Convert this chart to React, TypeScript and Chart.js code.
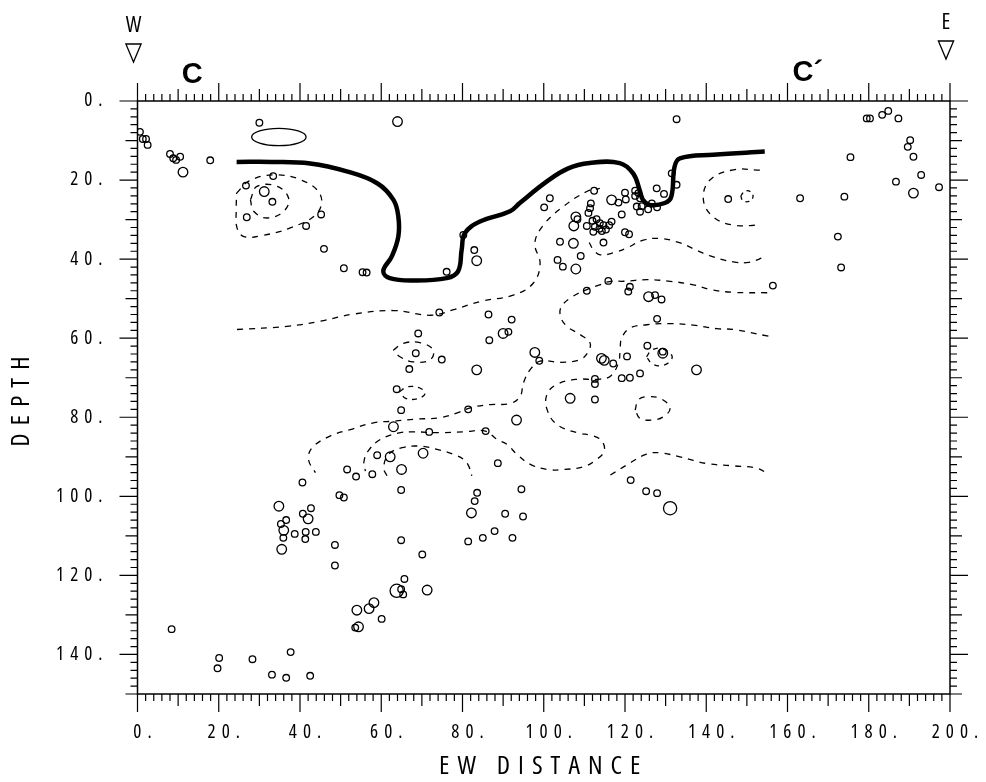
import React, { useEffect, useRef } from 'react';
import { Chart, registerables } from 'chart.js';

Chart.register(...registerables);

const FONT = "'Open Sans', 'DejaVu Sans', 'Liberation Sans', sans-serif";

// Axis ticks
const xTickValues = [0, 20, 40, 60, 80, 100, 120, 140, 160, 180, 200];
const xTickLabels = ['0.', '20.', '40.', '60.', '80.', '100.', '120.', '140.', '160.', '180.', '200.'];
const yTickValues = [0, 20, 40, 60, 80, 100, 120, 140];
const yTickLabels = ['0.', '20.', '40.', '60.', '80.', '100.', '120.', '140.'];

// Hypocentres: [EW distance, depth]
const smallEvents: number[][] = [
  [30.0, 5.5], [0.6, 7.8], [1.3, 9.6], [2.1, 9.6], [2.5, 11.1], [8.0, 13.4], [8.8, 14.5], [9.5, 14.9],
  [10.5, 14.1], [17.9, 15.0], [33.4, 19.0], [26.7, 21.4], [33.2, 25.5], [26.9, 29.4], [45.2, 28.7],
  [41.5, 31.6], [45.9, 37.4], [50.8, 42.3], [55.4, 43.3], [56.4, 43.4], [76.1, 43.2], [80.2, 33.9],
  [82.9, 37.7], [74.3, 53.5], [86.4, 54.0], [92.1, 55.3], [91.3, 58.4], [86.6, 60.5], [69.1, 58.8],
  [68.5, 63.8], [74.9, 65.4], [66.9, 67.8], [63.8, 72.9], [64.9, 78.2], [71.8, 83.7], [81.4, 78.0],
  [85.7, 83.5], [59.0, 89.6], [51.6, 93.2], [53.8, 95.0], [57.8, 94.4], [64.9, 98.4], [88.7, 91.6],
  [40.6, 96.5], [49.7, 99.7], [50.8, 100.3], [40.7, 104.4], [42.7, 103.0], [36.6, 106.0], [35.3, 107.0],
  [35.9, 110.5], [38.7, 109.5], [41.4, 109.0], [43.9, 109.0], [41.3, 110.8], [48.6, 112.3], [48.6, 117.5],
  [64.9, 111.1], [70.1, 114.7], [83.6, 99.1], [83.0, 101.2], [90.5, 104.4], [87.9, 108.8], [85.0, 110.5],
  [81.4, 111.4], [92.3, 110.5], [94.5, 98.2], [94.9, 105.1], [65.7, 120.9], [64.9, 123.5], [65.4, 124.8],
  [60.1, 131.0], [53.6, 133.2], [8.4, 133.6], [20.1, 140.9], [19.7, 143.5], [28.3, 141.2], [33.1, 145.1],
  [36.6, 145.9], [37.7, 139.4], [42.5, 145.4], [121.4, 95.9], [125.2, 98.7], [127.9, 99.2],
  [132.7, 4.6], [179.5, 4.4], [180.3, 4.4], [183.3, 3.5], [184.8, 2.5], [187.3, 4.4], [190.2, 9.9],
  [189.6, 11.6], [191.0, 14.1], [175.5, 14.2], [192.9, 18.7], [186.7, 20.4], [197.3, 21.8], [163.1, 24.6],
  [174.0, 24.2], [172.4, 34.3], [173.2, 42.1], [156.4, 46.7], [145.4, 24.8], [131.5, 18.3], [132.7, 21.2],
  [127.8, 22.1], [129.6, 23.5],
  [112.4, 22.7], [101.5, 24.6], [100.1, 26.9], [118.4, 25.7], [120.0, 23.2], [120.2, 24.9], [122.5, 22.7],
  [122.5, 24.0], [123.3, 23.3], [123.7, 24.6], [122.9, 26.7], [124.1, 26.6], [123.7, 28.0], [125.7, 27.4],
  [126.6, 25.9], [127.9, 26.9], [111.6, 25.9], [111.4, 27.1], [111.0, 28.3], [119.2, 28.7], [108.3, 29.9],
  [110.6, 31.6], [112.0, 30.3], [113.0, 29.9], [113.8, 30.9], [112.6, 31.8], [113.7, 32.3], [114.7, 31.4],
  [114.3, 32.9], [112.2, 33.1], [115.3, 32.5], [116.7, 30.5], [116.1, 31.4], [120.0, 33.2], [121.0, 33.7],
  [114.7, 35.8], [109.1, 39.2], [104.7, 41.9], [103.4, 40.2], [104.0, 35.6], [115.9, 45.5], [110.6, 48.0],
  [121.2, 47.0], [120.8, 48.2], [127.4, 49.1], [129.0, 50.2], [127.9, 55.1], [98.9, 65.7], [117.1, 66.4],
  [120.5, 64.6], [125.5, 61.9], [129.3, 63.4], [112.6, 70.3], [112.6, 71.6], [119.2, 70.1], [121.2, 70.0],
  [123.7, 68.9], [112.6, 75.5],
];

const mediumEvents: number[][] = [
  [64.0, 5.2], [11.2, 18.0], [31.2, 22.9], [83.5, 40.4], [90.0, 58.8], [83.5, 68.0], [63.0, 82.4],
  [93.3, 80.7], [62.2, 90.0], [70.3, 89.1], [65.0, 93.2], [34.8, 102.5], [42.0, 105.7], [36.0, 108.6],
  [35.5, 113.4], [82.2, 104.2], [71.3, 123.7], [58.2, 126.9], [57.0, 128.4], [54.0, 128.8], [54.4, 133.0],
  [116.7, 25.0], [107.9, 29.3], [107.4, 31.6], [107.3, 36.0], [107.9, 42.5], [125.8, 49.5], [97.8, 63.6],
  [114.2, 65.1], [114.9, 65.6], [129.3, 63.8], [137.6, 68.0], [106.5, 75.2], [191.0, 23.3],
];

const largeEvents: number[][] = [[63.8, 123.9], [131.1, 103.0]];

// Thick boundary line
const boundaryLine: number[][] = [
  [24.4, 15.4], [33, 15.4], [42.5, 15.8], [51.5, 17.8], [59, 20.8], [63, 25], [64.2, 29.2], [64.2, 34.3],
  [62.6, 39.3], [60.5, 43], [62.1, 44.8], [68, 45.4], [76.1, 44.8], [78.9, 43.1], [79.8, 37.6], [80.6, 33.4],
  [84.3, 30.5], [91.7, 27.9], [94.1, 25.8], [100.7, 20.4], [105.9, 17.1], [111.3, 15.7], [118.7, 15.7],
  [122, 18.3], [123.6, 22.5], [124.4, 25], [126.1, 26.3], [129.8, 25.8], [131.4, 24.2], [132.2, 16.6],
  [133.5, 14.5], [141.7, 13.6], [154.4, 12.8],
];

// Dashed contours
const contourA: number[][] = [[24.4, 23.3], [27.5, 20.2], [33.5, 18.7], [40.1, 19.9], [45, 23.7], [44.2, 28.4], [37.6, 32.1], [30.3, 34.1], [26.2, 34.3], [24.5, 32.1], [24.3, 27.5], [24.4, 23.3]];
const contourB: number[][] = [[27.8, 25], [29.4, 21.6], [34.4, 21.6], [37.2, 24.6], [36, 27.9], [31.9, 29.6], [28.6, 27.9], [27.8, 25]];
const contourC: number[][] = [[24.5, 57.8], [36.8, 57], [45, 55.7], [53.2, 53.9], [63.1, 53], [72.1, 54.2], [77.8, 52.8], [84.4, 50.7], [92.5, 49.1], [97.4, 46.1], [99.1, 41.1], [97.8, 36], [99.9, 31.4], [104.8, 26.7], [110.6, 22.9], [113.8, 22.1]];
const contourD: number[][] = [[111.2, 35.8], [112.2, 37.6], [113.9, 38.9], [117.2, 38.4], [120.4, 37.2], [124.5, 35.2], [128.7, 34.8], [133.6, 35.9], [137.3, 37.6], [141, 39.2], [146.7, 40.7], [150.5, 40.8], [154.5, 39.4]];
const contourE: number[][] = [[153.2, 17.5], [146.7, 17.4], [140.9, 20], [139.3, 25], [141.7, 29.3], [146.7, 31.4], [153.2, 31.4]];
const contourF: number[][] = [[148.5, 24], [149.5, 22.8], [151, 23], [151.5, 24.3], [150.5, 25.4], [149, 25.2], [148.5, 24]];
const contourG: number[][] = [[155, 48.5], [146.7, 48.4], [141, 47.7], [136.8, 46.5], [131.1, 45.6], [125.4, 45.2], [119.6, 45.6], [116.4, 45.6], [113.8, 46.5], [110.6, 47.7], [107.2, 49.4], [104.4, 51.9], [104.1, 54.4], [105.7, 57], [109, 59.1], [111.4, 61.2], [111, 63.3], [109, 65.4], [104.1, 66.1], [99.1, 65.8], [96.7, 67.9], [95, 71.3], [94.2, 74.7], [91.8, 76.5], [86.8, 76.8], [81.9, 77.6], [78.7, 78.9], [74.5, 80.1], [68, 80.5], [63.1, 81], [58.1, 81.4], [52.4, 83.1], [47.5, 84.7], [43, 87.7], [42.1, 90.7], [43.8, 94]];
const contourH: number[][] = [[155.3, 59.5], [146.7, 57.8], [142.6, 57.6], [136.8, 56.7], [131.1, 56.3], [125.4, 56.6], [121.3, 57.4], [119.2, 59.9], [118.8, 62.9], [118.4, 66.2], [116.4, 69.6], [113.1, 70.4], [108.2, 70.4], [103.2, 71.7], [100.8, 74.2], [100.8, 78], [103.2, 81.8], [108.2, 83.9], [112.2, 84.7], [114.3, 86], [114.9, 88.5], [113.1, 90.6], [109.8, 92.5], [104.9, 93.2], [100.8, 93.2], [96.7, 91.9], [93.4, 89.4], [91, 86.9], [88.5, 85.6], [85.6, 83.5], [80.3, 83.7], [74.5, 83.9], [68, 83.7], [64.7, 83.9], [59.8, 85.6], [56.8, 88.5], [55.7, 91.5], [56.1, 93.6]];
const contourI: number[][] = [[61.4, 94.8], [60.6, 92.8], [61.8, 89.4], [65.1, 87.7], [69.6, 87.3], [73.7, 88.1], [77.8, 89.4], [80.3, 90.7], [81.5, 92.3], [82.3, 94.8]];
const contourJ: number[][] = [[63, 63], [65.4, 61.3], [69.5, 61.1], [72.8, 63], [72, 65.5], [67.9, 66], [64.6, 64.7], [63, 63]];
const contourK: number[][] = [[64.5, 73.5], [66.5, 72.3], [69.5, 72.6], [70.8, 74], [69, 75.3], [66, 75.2], [64.5, 73.5]];
const contourL: number[][] = [[125.3, 64.7], [126.6, 63], [129, 62.6], [131.5, 64.3], [131.1, 65.9], [128.6, 67], [126.6, 66.4], [125.3, 64.7]];
const contourM: number[][] = [[122.5, 78.2], [123.3, 75.6], [125.7, 74.8], [129, 75.4], [131.1, 77.7], [129.4, 79.9], [126.6, 80.7], [123.7, 80.3], [122.5, 78.2]];
const contourN: number[][] = [[116.4, 94.6], [120.4, 92.1], [125.3, 89.3], [128.6, 89], [133.5, 90], [140.1, 91.7], [146.8, 92.3], [152.5, 92.9], [155.3, 94.4]];

// Small solid oval near the surface (centre and half-axes in data units)
const ovalCenter = [34.8, 9.1];
const ovalHalfAxes = [6.7, 2.2];

// Section end markers and profile labels
const sectionEnds = [{ label: 'W', x: 0 }, { label: 'E', x: 200 }];
const profileLabels = [{ label: 'C', x: 13.5 }, { label: 'C\u00B4', x: 163.8 }];

const toXY = (arr: number[][]) => arr.map(([x, y]) => ({ x, y }));

const lineDs = (label: string, pts: number[][], width: number, dash: number[]) => ({
  label,
  data: toXY(pts),
  showLine: true,
  borderColor: '#000',
  backgroundColor: 'transparent',
  borderWidth: width,
  borderDash: dash,
  pointRadius: 0,
  pointHoverRadius: 0,
  tension: 0.4,
  fill: false,
});

const pointDs = (label: string, pts: number[][], r: number) => ({
  label,
  data: toXY(pts),
  showLine: false,
  pointRadius: r,
  pointHoverRadius: r,
  pointBorderWidth: 1.3,
  pointBorderColor: '#000',
  pointBackgroundColor: 'rgba(0,0,0,0)',
  borderColor: '#000',
  backgroundColor: 'rgba(0,0,0,0)',
});

const TICK_SPACING = '6px';
const TITLE_SPACING = '8px';

const framePlugin = {
  id: 'sectionFrame',
  beforeDraw(chart: any) {
    chart.ctx.letterSpacing = TICK_SPACING;
    ['x', 'y'].forEach((id) => {
      const s = chart.scales[id];
      if (s && !s.__spacedTitle) {
        const orig = s.drawTitle.bind(s);
        s.drawTitle = function () {
          const c = chart.ctx;
          const prev = c.letterSpacing;
          c.letterSpacing = TITLE_SPACING;
          orig();
          c.letterSpacing = prev;
        };
        s.__spacedTitle = true;
      }
    });
  },
  afterDraw(chart: any) {
    const ctx = chart.ctx;
    const xs = chart.scales.x;
    const ys = chart.scales.y;
    const { left, right, top, bottom } = chart.chartArea;
    ctx.save();
    ctx.letterSpacing = '0px';
    ctx.strokeStyle = '#000';
    ctx.fillStyle = '#000';
    ctx.lineWidth = 1.5;
    ctx.strokeRect(left, top, right - left, bottom - top);

    ctx.lineWidth = 1.2;
    ctx.beginPath();
    for (let v = xs.min; v <= xs.max + 0.001; v += 2) {
      const len = v % 20 === 0 ? 18 : v % 10 === 0 ? 12 : 7;
      const px = xs.getPixelForValue(v);
      ctx.moveTo(px, bottom);
      ctx.lineTo(px, bottom + len);
      ctx.moveTo(px, top);
      ctx.lineTo(px, top - len);
    }
    for (let v = ys.min; v <= ys.max + 0.001; v += 2) {
      const len = v % 20 === 0 ? 18 : v % 10 === 0 ? 12 : 7;
      const py = ys.getPixelForValue(v);
      ctx.moveTo(left, py);
      ctx.lineTo(left - len, py);
      ctx.moveTo(right, py);
      ctx.lineTo(right + len, py);
    }
    ctx.stroke();

    // oval
    const cx = xs.getPixelForValue(ovalCenter[0]);
    const cy = ys.getPixelForValue(ovalCenter[1]);
    const rx = Math.abs(xs.getPixelForValue(ovalCenter[0] + ovalHalfAxes[0]) - cx);
    const ry = Math.abs(ys.getPixelForValue(ovalCenter[1] + ovalHalfAxes[1]) - cy);
    ctx.save();
    ctx.beginPath();
    ctx.rect(left, top, right - left, bottom - top);
    ctx.clip();
    ctx.beginPath();
    ctx.ellipse(cx, cy, rx, ry, 0, 0, Math.PI * 2);
    ctx.lineWidth = 1.3;
    ctx.stroke();
    ctx.restore();

    // W / E markers with triangles
    ctx.font = `normal condensed 22px ${FONT}`;
    ctx.textAlign = 'center';
    ctx.textBaseline = 'alphabetic';
    ctx.lineWidth = 1.3;
    sectionEnds.forEach((s, i) => {
      const px = xs.getPixelForValue(s.x) - 4;
      const base = i === 0 ? top - 69 : top - 72;
      ctx.fillText(s.label, px, base);
      const t0 = base + 12;
      ctx.beginPath();
      ctx.moveTo(px - 7.6, t0);
      ctx.lineTo(px + 7.6, t0);
      ctx.lineTo(px, t0 + 18);
      ctx.closePath();
      ctx.stroke();
    });

    // C / C' profile labels
    ctx.font = "bold 29px 'Liberation Sans', Arial, sans-serif";
    ctx.textAlign = 'left';
    profileLabels.forEach((p, i) => {
      const px = xs.getPixelForValue(p.x) - 10.5;
      ctx.fillText(p.label, px, i === 0 ? top - 18 : top - 20);
    });
    ctx.restore();
    ctx.letterSpacing = '0px';
  },
};

const zeroPadding = (s: any) => {
  s.paddingLeft = 0;
  s.paddingRight = 0;
  s.paddingTop = 0;
  s.paddingBottom = 0;
};

export default function App() {
  const ref = useRef<HTMLCanvasElement>(null);

  useEffect(() => {
    if (!ref.current) return;
    const datasets: any[] = [
      pointDs('Small events', smallEvents, 3.3),
      pointDs('Medium events', mediumEvents, 4.8),
      pointDs('Large events', largeEvents, 6.6),
      lineDs('Boundary', boundaryLine, 4.5, []),
      lineDs('Contour A', contourA, 1.3, [6, 6]),
      lineDs('Contour B', contourB, 1.3, [6, 6]),
      lineDs('Contour C', contourC, 1.3, [6, 6]),
      lineDs('Contour D', contourD, 1.3, [6, 6]),
      lineDs('Contour E', contourE, 1.3, [6, 6]),
      lineDs('Contour F', contourF, 1.3, [4, 4]),
      lineDs('Contour G', contourG, 1.3, [6, 6]),
      lineDs('Contour H', contourH, 1.3, [6, 6]),
      lineDs('Contour I', contourI, 1.3, [6, 6]),
      lineDs('Contour J', contourJ, 1.3, [6, 6]),
      lineDs('Contour K', contourK, 1.3, [5, 5]),
      lineDs('Contour L', contourL, 1.3, [5, 5]),
      lineDs('Contour M', contourM, 1.3, [6, 6]),
      lineDs('Contour N', contourN, 1.3, [6, 6]),
    ];
    const chart = new Chart(ref.current, {
      type: 'scatter',
      data: { datasets },
      options: {
        responsive: false,
        animation: false,
        devicePixelRatio: 1,
        events: [],
        layout: { padding: { top: 101, right: 36, left: 0, bottom: 0 } },
        plugins: { legend: { display: false }, tooltip: { enabled: false } },
        scales: {
          x: {
            type: 'linear',
            min: 0,
            max: 200,
            afterBuildTicks: (s: any) => { s.ticks = xTickValues.map((v) => ({ value: v })); },
            afterFit: (s: any) => { s.height = 88; zeroPadding(s); },
            ticks: {
              callback: (_v: any, i: number) => xTickLabels[i],
              color: '#000',
              font: { family: FONT, size: 19, weight: 'normal condensed' },
              padding: 27,
              labelOffset: 8,
              maxRotation: 0,
              autoSkip: false,
            },
            grid: { display: false, drawTicks: false },
            border: { display: false },
            title: {
              display: true,
              text: 'EW DISTANCE',
              color: '#000',
              font: { family: FONT, size: 26, weight: 'normal condensed' },
              padding: { top: 0, bottom: 0 },
            },
          },
          y: {
            type: 'linear',
            reverse: true,
            min: 0,
            max: 150,
            afterBuildTicks: (s: any) => { s.ticks = yTickValues.map((v) => ({ value: v })); },
            afterFit: (s: any) => { s.width = 137.5; zeroPadding(s); },
            ticks: {
              callback: (_v: any, i: number) => yTickLabels[i],
              color: '#000',
              font: { family: FONT, size: 19, weight: 'normal condensed' },
              padding: 29,
              autoSkip: false,
            },
            grid: { display: false, drawTicks: false },
            border: { display: false },
            title: {
              display: true,
              text: 'DEPTH',
              color: '#000',
              font: { family: FONT, size: 26, weight: 'normal condensed' },
              padding: { top: 6, bottom: 0 },
            },
          },
        },
      } as any,
      plugins: [framePlugin],
    });
    return () => chart.destroy();
  }, []);

  return (
    <div style={{ position: 'absolute', left: 0, top: 0, width: 986, height: 782, background: '#fff' }}>
      <canvas ref={ref} width={986} height={782} style={{ display: 'block', width: 986, height: 782 }} />
    </div>
  );
}
